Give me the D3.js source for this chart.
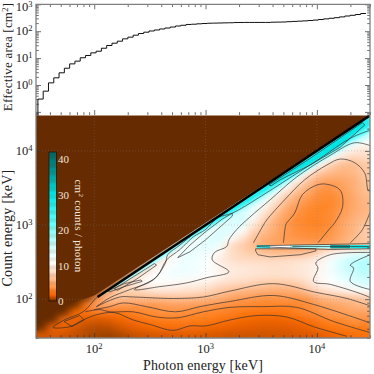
<!DOCTYPE html>
<meta charset="utf-8">
<style>
  html, body { margin: 0; padding: 0; background: #fff; }
  svg { display: block; }
  text { font-family: "Liberation Serif", serif; }
</style>

<!-- Load d3.js -->
<script src="https://d3js.org/d3.v7.min.js"></script>

<div id="chart"></div>

<script>
  var areaBinLow = 31.2, areaBinHigh = 27600;
  var effectiveArea = [0.30, 0.59, 1.2, 1.85, 2.84, 4.2, 6.1, 7.7, 10.3, 12.5, 15.7, 18, 23.3, 29.4, 35.8, 42.5,
    52, 60, 71, 82, 92, 102, 111, 121, 131, 143, 156, 166, 178, 182, 188, 193, 198, 200, 202, 204, 206, 210, 211,
    212, 212, 212, 212, 212, 216, 218, 220, 226, 231, 236, 242, 250, 259, 272, 287, 302, 318, 340, 367, 390, 417, 455];

  // response in cm2 counts / photon, 0.1 decade cells from 30 keV.
  // rows go up in count energy, each row starts at the diagonal cell
  var response = [
    [1.1,1.2,1.1,0.9,0.7,0.55,0.5,0.6,0.85,1.05,1.15,1.2,1.25,1.3,1.3,1.2,1.15,1.05,1.05,1.05,1.05,1.1,1.1,1.2,1.2,1.35,1.6,1.85,2.1,2.2],
    [1.6,1.5,1.2,0.85,0.75,0.8,1.1,1.4,1.6,1.9,2.0,2.1,2.0,1.95,1.75,1.7,1.5,1.4,1.35,1.3,1.3,1.35,1.45,1.6,2.1,2.4,2.6,2.7,2.6],
    [2.0,1.7,1.3,1.2,1.3,1.7,1.95,2.3,2.6,2.7,2.7,2.75,2.7,2.55,2.3,2.1,1.9,1.75,1.7,1.7,1.75,1.9,2.2,2.6,3.0,3.2,3.7,3.6],
    [1.9,2.2,2.4,2.3,2.4,2.7,3.1,3.4,3.6,3.7,3.5,3.3,3.1,3.0,2.75,2.5,2.3,2.2,2.2,2.4,2.9,3.2,3.6,4.0,4.3,4.5,4.4],
    [2.4,4.5,4.5,4.0,4.0,3.9,3.8,4.1,4.3,4.2,4.0,3.9,3.7,3.5,3.2,3.1,3.0,3.0,3.0,3.1,3.5,4.0,4.6,4.9,5.4,5.8],
    [3.5,6.5,6.5,6.0,6.3,6.0,6.1,6.4,6.3,6.1,5.7,5.2,4.5,4.2,3.9,3.7,3.7,3.9,3.7,4.0,5.6,5.9,6.1,6.5,7.0],
    [3.5,7.5,7.5,7.8,9.0,9.0,8.8,8.6,8.3,7.8,7.0,6.3,5.9,5.6,5.3,5.1,5.2,5.4,6.8,8.0,8.9,9.8,10.5,11.5],
    [5,9,10.5,10.8,10.8,10.6,10.3,10,9.5,8.6,8,7.8,7.4,7,6.8,6.9,7.3,8.3,10.2,11,12,13.5,14.5],
    [6,9.5,11,11.5,12,12,11.5,11,10.4,9.4,9,8.8,8.6,8.4,8.6,8.9,9.4,10.6,11.8,13.5,15,16],
    [7,10,11,12,12.5,12,11.5,10.3,9.5,9.2,9,8.8,8.6,8.7,9,9.5,10.3,12,14.5,16,17],
    [8,10,11.5,12.5,12,11,9.5,8.5,8,8,8,8,8.2,8.5,9,10,12,14.5,16.5,17],
    [8,11.5,13,12.5,12,10.5,8.5,7.5,7,6.5,6,6,6,6.5,8.2,10,11.5,12.5,13.5],
    [9,12,13,13.5,12,8,7,6,5,4.5,4.5,4.5,4.5,4.5,5,5.5,6,6.5],
    [9,12,13.5,14,11,8.5,6.5,5.2,4.6,4,3.8,3.6,3.6,4,5,6,7],
    [9,12,14,14,11,7.5,6,5,4,3.5,3.3,3.3,3.8,4.8,5.5,7],
    [9,13,14,14,9.5,6.8,5.2,4,3.3,3,3,3.3,4.7,5.5,6.5],
    [10,14,15,11.5,8,5.8,4.4,3.5,3.1,3.1,3.4,4.3,5.2,5.9],
    [10,14,14,9.8,7,5,3.9,3.2,3,3.2,3.9,4.9,5.6],
    [11,14,13,8.5,6,4.6,3.7,3.2,3.2,3.8,4.8,5.7],
    [12,15,12,7.6,5.6,4.4,3.5,3.4,4,5,6],
    [14,16,11,7.2,5.5,4,3.8,4.5,5.2,6.2],
    [14,16,10.5,6.8,5.3,4.8,4.9,5.3,6.5],
    [14,16,10,7,6,5.6,5.8,6.8],
    [14,16,10.5,7.5,6.2,6,6.8],
    [15,17,12,9,7.7,8],
    [15,18,13,10,9],
    [15,18,13,11.5],
    [16,19,15],
    [16,20],
    [16]
  ];

  // narrow full-energy ridge just under the diagonal: how far it reaches below, in decades of count energy
  var ridgeEnergy = [2.05, 2.23, 2.50, 2.77, 3.00, 3.40, 4.00, 4.30, 4.48];
  var ridgeLevels = [16, 22, 27];
  var ridgeDepth = [
    [.01, .05, .07, .08, .10, .17, .20, .23, .30],
    [0, .02, .03, .035, .06, .12, .16, .18, .23],
    [0, .01, .01, .02, .035, .08, .11, .12, .14]
  ];
  var peakLevel = 30;

  // 511 keV line, log10 photon energy edges and the response along it
  var lineEdges = [3.46, 3.58, 3.76, 4.12, 4.30, 4.48];
  var lineValues = [25, 11, 18, 36, 29];
  var lineBounds = [2.73, 2.685];

  // contour lines as [log10 photon keV, log10 count keV]
  var contourA = [[2.08,2.09],[2.02,2.02],[1.90,1.83],[1.73,1.72],[1.63,1.62],[1.78,1.63],[1.90,1.72],[2.02,1.79],[2.18,1.82],[2.35,1.72],[2.50,1.66],[2.71,1.58],[2.86,1.64],[3.00,1.64],[3.22,1.72],[3.46,1.78],[3.73,1.76],[3.97,1.63],[4.27,1.50]];
  var contourB = [[1.92,1.83],[2.05,1.86],[2.14,1.83],[2.35,1.83],[2.56,1.76],[2.75,1.75],[2.98,1.83],[3.22,1.89],[3.52,1.90],[3.82,1.89],[4.15,1.70],[4.48,1.55]];
  var contourC = [[2.00,1.86],[2.14,1.90],[2.26,1.95],[2.47,1.90],[2.73,1.83],[2.95,1.90],[3.22,1.97],[3.61,2.05],[3.97,1.93],[4.48,1.68]];
  var contourD = [[2.02,1.90],[2.23,2.03],[2.35,2.03],[2.71,2.01],[2.98,2.03],[3.22,2.11],[3.61,2.21],[4.00,2.09],[4.27,2.01],[4.48,1.91]];
  var contourW1 = [[2.02,1.90],[2.14,2.02],[2.32,2.13],[2.53,2.26],[2.64,2.49],[2.66,2.60],[2.77,2.73],[2.89,2.88]];
  var contourW2 = [[1.73,1.70],[1.87,1.78],[1.91,1.72],[1.80,1.63],[1.73,1.70]];
  var contourE = [[4.48,4.28],[4.30,4.17],[4.03,3.90],[3.73,3.61],[3.49,3.38],[3.24,3.16],[3.11,3.10],[3.00,2.94],[2.89,2.84],[2.77,2.67],[2.65,2.53],[2.56,2.30],[2.36,2.13],
    [2.59,2.17],[2.83,2.22],[3.01,2.29],[3.21,2.37],[3.06,2.53],[3.08,2.63],[3.19,2.71],[3.21,2.80],[3.28,2.94],[3.40,3.11],[3.58,3.34],[3.82,3.65],[4.12,3.94],[4.34,4.11],[4.48,4.07]];
  var blobOuterTop = [[3.43,2.76],[3.52,3.00],[3.55,3.07],[3.71,3.34],[3.89,3.61],[4.09,3.81],[4.21,3.89],[4.34,3.84],[4.43,3.70],[4.46,3.47],[4.48,3.45]];
  var blobOuterBottom = [[4.48,3.18],[4.41,2.94],[4.36,2.85],[4.30,2.76]];
  var blobInner = [[3.70,2.76],[3.72,3.00],[3.73,3.03],[3.80,3.16],[3.87,3.41],[4.00,3.54],[4.09,3.55],[4.21,3.47],[4.23,3.24],[4.16,3.03],[4.12,2.96],[4.01,2.76]];
  var rightOuter = [[4.48,2.63],[4.12,2.60],[3.99,2.49],[4.01,2.42],[3.97,2.24],[4.12,2.20],[4.42,2.06],[4.48,2.02]];
  var rightInner = [[4.48,2.60],[4.30,2.46],[4.33,2.42],[4.30,2.24],[4.48,2.13]];
  var lensBelowLine = [[3.45,2.65],[3.47,2.60],[3.58,2.57],[3.85,2.60],[3.99,2.65],[3.99,2.68],[3.45,2.68],[3.45,2.65]];
  var lensMid = [[2.75,2.56],[2.86,2.73],[3.00,2.91],[3.15,3.08],[3.24,3.16],[3.24,3.12],[3.15,3.00],[3.00,2.80],[2.86,2.64],[2.75,2.56]];
  var lensNarrow = [[2.12,2.11],[2.27,2.21],[2.42,2.26],[2.43,2.24],[2.27,2.17],[2.14,2.10],[2.12,2.11]];
  var lensDiag = [[2.18,2.14],[2.36,2.31],[2.54,2.48],[2.56,2.46],[2.38,2.27],[2.21,2.12],[2.18,2.14]];
  var lensPeak = [[3.57,3.54],[3.94,3.90],[4.41,4.38],[4.43,4.35],[4.21,4.05],[3.94,3.81],[3.67,3.61],[3.59,3.53],[3.57,3.54]];
  var lineTop = [[3.46,2.72],[4.48,2.75]];
  var lineBottom = [[3.46,2.71],[4.12,2.67],[4.48,2.68]];
  var lineMiddle = [[3.78,2.71],[4.48,2.71]];

  var smoothContours = [contourA, contourB, contourC, contourD, contourW1, contourE, blobOuterTop, blobOuterBottom,
    blobInner, rightOuter, rightInner];
  var sharpContours = [contourW2, lensBelowLine, lensMid, lensNarrow, lensDiag, lensPeak, lineTop, lineBottom, lineMiddle];

  // colormap stops as on the colorbar
  var colorStops = [0, 0.7, 1.5, 2.5, 4, 6, 8, 11, 16, 22, 30, 36, 43];
  var colorRange = ["#662b00", "#b24b00", "#ee6000", "#ff7a10", "#ff9a50", "#ffbc8c", "#ffdcc4", "#ffffff", "#c4ffff", "#60ffff", "#00e6e6", "#009a9a", "#005a5a"];
  var barTicks = [0, 10, 20, 30, 40];

  var energyDomain = [30, 30000];
  var areaDomain = [0.0767, 1000];
  var topY = [115, 4.3];
  var plotX = [36, 370];
  var plotY = [338, 115.5];

  var svg = d3.select("#chart").append("svg").attr("width", 374).attr("height", 374);

  var x = d3.scaleLog().domain(energyDomain).range(plotX);
  var y = d3.scaleLog().domain(energyDomain).range(plotY);
  var yArea = d3.scaleLog().domain(areaDomain).range(topY);
  var color = d3.scaleLinear().domain(colorStops).range(colorRange).clamp(true);

  var defs = svg.append("defs");
  var fieldBlur = defs.append("filter").attr("id", "fieldBlur")
      .attr("filterUnits", "userSpaceOnUse")
      .attr("x", 0).attr("y", 0).attr("width", 400).attr("height", 400);
  fieldBlur.append("feGaussianBlur").attr("stdDeviation", "4.5 3");
  var ridgeBlur = defs.append("filter").attr("id", "ridgeBlur")
      .attr("filterUnits", "userSpaceOnUse")
      .attr("x", 0).attr("y", 0).attr("width", 400).attr("height", 400);
  ridgeBlur.append("feGaussianBlur").attr("stdDeviation", "1");

  // keep the field under the diagonal, below 100 keV it is left soft
  defs.append("clipPath").attr("id", "fieldClip").append("polygon")
      .attr("points", [[30, 30], [30, 62], [100, 112], [30000, 30000], [30000, 30]]
        .map(function (d) { return x(d[0]) + "," + y(d[1]); }).join(" "));
  defs.append("clipPath").attr("id", "plotClip").append("rect")
      .attr("x", plotX[0]).attr("y", plotY[1])
      .attr("width", plotX[1] - plotX[0]).attr("height", plotY[0] - plotY[1]);

  // Response panel
  svg.append("rect")
      .attr("x", plotX[0]).attr("y", plotY[1])
      .attr("width", plotX[1] - plotX[0]).attr("height", plotY[0] - plotY[1])
      .style("fill", colorRange[0]);

  var gridEdges = d3.range(31).map(function (k) { return 30 * Math.pow(10, k / 10); });
  var cells = [];
  response.forEach(function (row, i) {
    row.forEach(function (v, k) { cells.push({ i: i, j: i + k, v: v }); });
  });

  var field = svg.append("g").attr("clip-path", "url(#fieldClip)")
      .append("g").attr("filter", "url(#fieldBlur)");
  field.selectAll("rect")
      .data(cells)
      .enter()
      .append("rect")
      .attr("x", function (d) { return x(gridEdges[d.j]) - (d.j === 0 ? 20 : 0); })
      .attr("y", function (d) { return y(gridEdges[d.i + 1]) - (d.i === 29 ? 20 : 0); })
      .attr("width", function (d) { return x(gridEdges[d.j + 1]) - x(gridEdges[d.j]) + 0.5 + (d.j === 29 || d.j === 0 ? 20 : 0); })
      .attr("height", function (d) { return y(gridEdges[d.i]) - y(gridEdges[d.i + 1]) + 0.5 + (d.i === 0 || d.i === 29 ? 20 : 0); })
      .style("fill", function (d) { return color(d.v); });

  var contourLine = d3.line()
      .x(function (d) { return x(Math.pow(10, d[0])); })
      .y(function (d) { return y(Math.pow(10, d[1])); });
  var smoothLine = d3.line()
      .x(function (d) { return x(Math.pow(10, d[0])); })
      .y(function (d) { return y(Math.pow(10, d[1])); })
      .curve(d3.curveCatmullRom.alpha(0.5));

  // ridge bands, widest first
  var ridge = svg.append("g").attr("clip-path", "url(#fieldClip)")
      .append("g").attr("filter", "url(#ridgeBlur)");
  ridgeLevels.forEach(function (level, n) {
    var upper = ridgeEnergy.map(function (e) { return [e, e]; });
    var lower = ridgeEnergy.map(function (e, k) { return [e, e - ridgeDepth[n][k]]; }).reverse();
    ridge.append("path")
        .attr("d", contourLine(upper.concat(lower)) + "Z")
        .style("fill", color(level));
  });
  ridge.append("path")
      .attr("d", contourLine(lensPeak) + "Z")
      .style("fill", color(peakLevel));

  // 511 keV line
  svg.append("g").selectAll("rect")
      .data(lineValues)
      .enter()
      .append("rect")
      .attr("x", function (d, i) { return x(Math.pow(10, lineEdges[i])); })
      .attr("y", y(Math.pow(10, lineBounds[0])))
      .attr("width", function (d, i) { return x(Math.pow(10, lineEdges[i + 1])) - x(Math.pow(10, lineEdges[i])); })
      .attr("height", y(Math.pow(10, lineBounds[1])) - y(Math.pow(10, lineBounds[0])))
      .style("fill", function (d) { return color(d); });

  // dotted grid
  var gridMajor = [100, 1000, 10000];
  var grid = svg.append("g").style("stroke", "#8a8a8a").style("stroke-opacity", 0.45)
      .style("stroke-width", 0.7).style("stroke-dasharray", "1,2");
  grid.selectAll("line.v").data(gridMajor).enter().append("line").attr("class", "v")
      .attr("x1", function (d) { return x(d); }).attr("x2", function (d) { return x(d); })
      .attr("y1", plotY[0]).attr("y2", plotY[1]);
  grid.selectAll("line.h").data(gridMajor).enter().append("line").attr("class", "h")
      .attr("y1", function (d) { return y(d); }).attr("y2", function (d) { return y(d); })
      .attr("x1", plotX[0]).attr("x2", plotX[1]);

  // contours
  var contourGroup = svg.append("g").attr("clip-path", "url(#plotClip)")
      .style("fill", "none")
      .style("stroke", "#2e2e2e")
      .style("stroke-opacity", 0.85)
      .style("stroke-width", 0.8);
  contourGroup.selectAll("path.smooth")
      .data(smoothContours)
      .enter()
      .append("path")
      .attr("class", "smooth")
      .attr("d", smoothLine);
  contourGroup.selectAll("path.sharp")
      .data(sharpContours)
      .enter()
      .append("path")
      .attr("class", "sharp")
      .attr("d", contourLine);

  // the bunched up lines along the diagonal read as one black edge
  svg.append("g").attr("clip-path", "url(#plotClip)").append("path")
      .attr("d", contourLine([[2.03, 2.03], [4.49, 4.49]]))
      .style("stroke", "#000")
      .style("stroke-width", 2.6);

  // Effective area stairs
  var logLow = Math.log10(areaBinLow), logHigh = Math.log10(areaBinHigh);
  var binEdges = d3.range(effectiveArea.length + 1).map(function (k) {
    return Math.pow(10, logLow + (logHigh - logLow) * k / effectiveArea.length);
  });
  var stairs = [[binEdges[0], areaDomain[0]]];
  effectiveArea.forEach(function (a, k) {
    stairs.push([binEdges[k], a]);
    stairs.push([binEdges[k + 1], a]);
  });
  svg.append("path")
      .attr("d", d3.line().x(function (d) { return x(d[0]); }).y(function (d) { return yArea(d[1]); })(stairs))
      .style("fill", "none")
      .style("stroke", "#111")
      .style("stroke-width", 1);

  // Axes, ticks point into the plots
  var isDecade = function (d) { return Math.abs(Math.log10(d) - Math.round(Math.log10(d))) < 1e-6; };

  function drawTicks(scale, axisFn, pos, sign, horizontal) {
    var g = svg.append("g")
        .attr("transform", horizontal ? "translate(0," + pos + ")" : "translate(" + pos + ",0)")
        .call(axisFn(scale).tickValues(scale.ticks()).tickFormat("").tickSizeOuter(0));
    g.select(".domain").remove();
    g.selectAll(".tick line")
        .attr(horizontal ? "y2" : "x2", function (d) { return sign * (isDecade(d) ? 5 : 2.8); })
        .style("stroke", "#333")
        .style("stroke-width", 0.7);
  }
  drawTicks(x, d3.axisBottom, plotY[0], -1, true);
  drawTicks(x, d3.axisTop, topY[1], 1, true);
  drawTicks(x, d3.axisBottom, topY[0], -1, true);
  drawTicks(y, d3.axisLeft, plotX[0], 1, false);
  drawTicks(y, d3.axisRight, plotX[1], -1, false);
  drawTicks(yArea, d3.axisLeft, plotX[0], 1, false);
  drawTicks(yArea, d3.axisRight, plotX[1], -1, false);

  // grey frame
  svg.append("path")
      .attr("d", "M" + plotX[0] + "," + plotY[0] + "V" + topY[1] + "H" + plotX[1] + "V" + plotY[0] + "Z")
      .style("fill", "none")
      .style("stroke", "#808080")
      .style("stroke-width", 1.3);

  // Tick labels
  function powerLabel(sel) {
    sel.style("font-size", "12.5px").style("fill", "#222")
       .text("10")
       .append("tspan")
       .attr("dy", -4)
       .style("font-size", "8.5px")
       .text(function (d) { return Math.round(Math.log10(d)); });
  }
  svg.append("g").selectAll("text")
      .data(gridMajor)
      .enter()
      .append("text")
      .attr("x", function (d) { return x(d); })
      .attr("y", 353)
      .attr("text-anchor", "middle")
      .call(powerLabel);
  svg.append("g").selectAll("text")
      .data(gridMajor)
      .enter()
      .append("text")
      .attr("x", 32.5)
      .attr("y", function (d) { return y(d) + 4; })
      .attr("text-anchor", "end")
      .call(powerLabel);
  svg.append("g").selectAll("text")
      .data([1, 10, 100, 1000])
      .enter()
      .append("text")
      .attr("x", 32.5)
      .attr("y", function (d) { return Math.max(yArea(d) + 4, 10.5); })
      .attr("text-anchor", "end")
      .call(powerLabel);

  // Axis labels
  svg.append("text")
      .attr("x", 203).attr("y", 370)
      .attr("text-anchor", "middle")
      .style("font-size", "14px").style("letter-spacing", "0.15px").style("fill", "#222")
      .text("Photon energy [keV]");
  svg.append("text")
      .attr("transform", "translate(12,228) rotate(-90)")
      .attr("text-anchor", "middle")
      .style("font-size", "14px").style("letter-spacing", "0.3px").style("fill", "#222")
      .text("Count energy [keV]");
  var areaLabel = svg.append("text")
      .attr("transform", "translate(12,57) rotate(-90)")
      .attr("text-anchor", "middle")
      .style("font-size", "13px").style("letter-spacing", "0.2px").style("fill", "#222")
      .text("Effective area [cm");
  areaLabel.append("tspan").attr("dy", -4).style("font-size", "8.5px").text("2");
  areaLabel.append("tspan").attr("dy", 4).text("]");

  // Colorbar
  var barX = 49, barWidth = 7.5;
  var yBar = d3.scaleLinear().domain([0, 42]).range([301, 152]);
  svg.append("g").selectAll("rect")
      .data(d3.range(0, 42, 0.25))
      .enter()
      .append("rect")
      .attr("x", barX)
      .attr("y", function (d) { return yBar(d + 0.25); })
      .attr("width", barWidth)
      .attr("height", yBar(0) - yBar(0.35))
      .style("fill", function (d) { return color(d); });
  svg.append("rect")
      .attr("x", barX).attr("y", yBar(42))
      .attr("width", barWidth).attr("height", yBar(0) - yBar(42))
      .style("fill", "none").style("stroke", "#2a1200").style("stroke-width", 0.8);
  svg.append("g").selectAll("text")
      .data(barTicks)
      .enter()
      .append("text")
      .attr("x", 58)
      .attr("y", function (d) { return yBar(d) + 4; })
      .style("font-size", "11px").style("fill", "#f3e6da")
      .text(function (d) { return d; });
  var barTitle = svg.append("text")
      .attr("transform", "translate(75,226) rotate(90)")
      .attr("text-anchor", "middle")
      .style("font-size", "11px").style("letter-spacing", "0.3px").style("fill", "#f3e6da")
      .text("cm");
  barTitle.append("tspan").attr("dy", -3.5).style("font-size", "7px").text("2");
  barTitle.append("tspan").attr("dy", 3.5).text(" counts / photon");
</script>
